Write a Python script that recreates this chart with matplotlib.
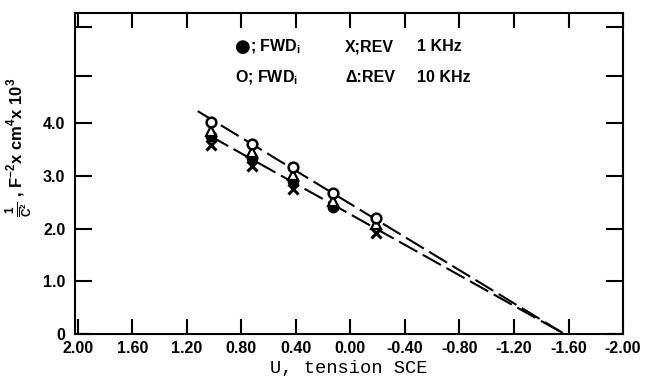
import matplotlib
matplotlib.use('Agg')
import matplotlib.pyplot as plt

plt.rcParams['font.family'] = ['Liberation Sans', 'DejaVu Sans']
plt.rcParams['axes.unicode_minus'] = False
plt.rcParams['mathtext.fontset'] = 'custom'
plt.rcParams['mathtext.rm'] = 'Liberation Sans'
plt.rcParams['mathtext.bf'] = 'Liberation Sans:bold'

# potentials (V vs SCE) of the five measurements
U = [1.02, 0.72, 0.42, 0.13, -0.19]

fwd_open = [4.02, 3.61, 3.17, 2.68, 2.20]     # O ; FWD
rev_10k = [3.85, 3.45, 3.02, 2.52, 2.08]      # triangle ; REV 10 kHz
fwd_fill = [3.75, 3.34, 2.91, 2.41]           # filled ; FWD
rev_1k = [3.59, 3.18, 2.75, 1.91]             # X ; REV 1 kHz
U_rev_1k = [1.02, 0.72, 0.42, -0.19]

# fitted straight lines
fit_hi_x = [1.12, -1.57]
fit_hi_y = [4.23, 0.0]
fit_lo_x = [1.03, -1.57]
fit_lo_y = [3.76, 0.0]

xticks = [2.0, 1.6, 1.2, 0.8, 0.4, 0.0, -0.4, -0.8, -1.2, -1.6, -2.0]
xticklabels = ['2.00', '1.60', '1.20', '0.80', '0.40', '0.00',
               '-0.40', '-0.80', '-1.20', '-1.60', '-2.00']
yticks = [0, 1, 2, 3, 4, 4.9, 5.82]
yticklabels = ['0', '1.0', '2.0', '3.0', '4.0', '', '']

fig = plt.figure(figsize=(6.49, 3.83), dpi=100)
ax = fig.add_axes([0.1156, 0.128, 0.8444, 0.839])

ax.plot(fit_hi_x, fit_hi_y, color='black', lw=1.5, dashes=(10, 3))
ax.plot(fit_lo_x, fit_lo_y, color='black', lw=1.5, dashes=(10, 3))

ax.plot(U_rev_1k, rev_1k, ls='none', marker='x', ms=7.5, mew=2.2, color='black', zorder=3)
ax.plot(U[:4], fwd_fill, ls='none', marker='o', ms=7.5, color='black', zorder=4)
ax.plot(U, rev_10k, ls='none', marker='^', ms=6.5, mew=1.6, mfc='white', mec='black', zorder=5)
ax.plot(U, fwd_open, ls='none', marker='o', ms=7, mew=1.8, mfc='white', mec='black', zorder=6)

ax.set_xlim(2.02, -2.0)
ax.set_ylim(0, 6.1)
ax.set_xticks(xticks)
ax.set_xticklabels(xticklabels, fontweight='bold', fontsize=11.5)
ax.set_yticks(yticks)
ax.set_yticklabels(yticklabels, fontweight='bold', fontsize=11.5)
ax.tick_params(axis='x', direction='in', length=11, width=1.5, top=True, pad=5)
ax.tick_params(axis='y', direction='in', length=12, width=1.5, right=True, pad=7)
for s in ax.spines.values():
    s.set_linewidth(1.5)

ax.set_xlabel('U, tension SCE', family='Liberation Mono', fontsize=13.5, labelpad=3)
ax.set_ylabel(r'$\frac{\mathbf{1}}{\overline{\mathbf{C}}^{\mathbf{2}}}$ , '
              r'F$^{\mathbf{-2}}$x cm$^{\mathbf{4}}$x 10$^{\mathbf{3}}$',
              fontweight='bold', fontsize=12)
ax.yaxis.set_label_coords(-0.075, 0.58)

kw = dict(fontweight='bold', fontsize=11.5, va='center', ha='left')
ax.text(0.85, 5.45, '●', fontsize=13, va='center', ha='left', family='DejaVu Sans')
ax.text(0.74, 5.45, r'; FWD$_{\mathbf{i}}$', **kw)
ax.text(0.85, 4.86, r'O; FWD$_{\mathbf{i}}$', **kw)
ax.text(0.04, 5.45, 'X;REV', **kw)
ax.text(0.04, 4.86, 'Δ:REV', **kw)
ax.text(-0.49, 5.45, '1 KHz', **kw)
ax.text(-0.49, 4.86, '10 KHz', **kw)

fig.savefig('out.png', dpi=100)
